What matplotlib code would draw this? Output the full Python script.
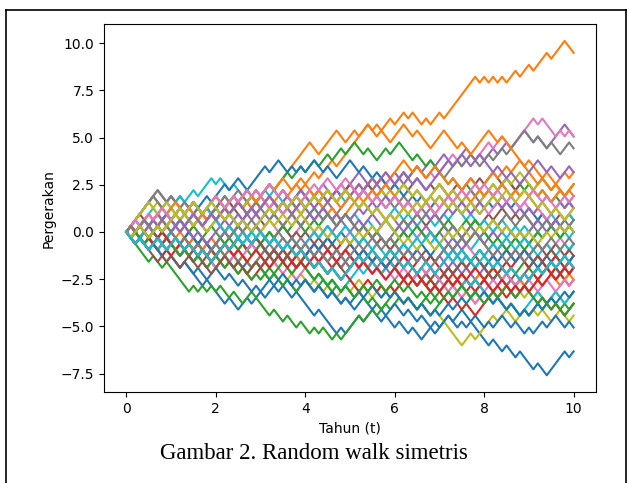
import numpy as np
import matplotlib
matplotlib.use("Agg")
import matplotlib.pyplot as plt
from matplotlib.lines import Line2D

# symmetric random walk: 100 steps of dt = 0.1 year, step size sqrt(dt)
dt = 0.1
step = np.sqrt(dt)

# each walk as up/down moves (u = +1 step, d = -1 step)
walks = [
    "dudduddudd dduddddudd ddudduuduu duududdudd dduddddudu uuduuddudd uddudduudu uuddududdd dudduddudd dudduuuudu",
    "uduududuud dudduuduud uuduuuduud uuduuuuuuu udduuuuddu uduudduuud uududduduu duuuuuuudu dududuuduu duuuduuudd",
    "ddddduddud ddddududud uddudduudd ddudduddud dududduduu uuduuduudu ududduuudu uuduuddudu uudduuduud duuddudduu",
    "uddudduddu udduududdd uudduuduud ddudduuddu uduuddudud dduduuddud ddudduuudd uuduudduud ddudduduud uduududuud",
    "uududduudu duuduudduu ddudduuduu uudduduuud duuudduudu uuddudduuu dduuuduudu udduuuddud uuduuduuud dudduuuudd",
    "uuuuuuuddu dudduddudu uddudduudd duudduuddu uduuddudud ddudduuudd uuduudduud ddudduuudu uduuddudud duudduudud",
    "uduudduudu uudduudduu duuduudduu ddudduuddu uuduuduudd uudduuudud uuduuddudu uuudduuduu uduudduuuu ududddudud",
    "uuuuuudduu dduddudduu uduudduudd uudduuddud uuduudduuu dduuduuddu uuduudduud duuuduuddu uduuduuuud duddudduud",
    "ddudduuddu duudduddud uddduudduu ddudddudud duddudduud uuddudduud ddudduddud ddddduuduu uuduudduud ududduuddu",
    "uuduuuduud uuduuduuud uddudduddu ududdduudd duddudduud uddudduudd duudduddud uuddudduuu duudduddud uuduuddudu",
    "dduduudddu ddudduuddd uududdudud dduddudduu ddudduddud duuddudduu ddudduddud uuduuddudd uduudduddu duuduuddud",
    "udduuduudu uudduduudu dduuududdu uuduuduudu uuduuuduuu uuuududddu uudduddduu udddudduuu uddudddddu dddudduudu",
    "uduuduudud uuduudduuu dduuduuddu uuduuuduud uuduuduudu uddudduudu uddduddudd ddudduddud uuduuddudu ddudduddud",
    "duddudduud uddudduudd uuduudduud ddudduduud dduuddudud uuddudduud dduddudduu uddudduudu ddudduuudu uduudduddu",
    "dudduuddud ddudduuduu uduuddudud dduddudduu uduudduddu ddudduuddu uuduuddudu dduddudduu uuduudduud dudduudduu",
    "uuududduud uuduuddudu uudduduudu uuddudduud ududduuduu dduudduddu uuduuddudu dduuduudud uuddudduud duuddudduu",
    "udduududdu dduuddudud uuduudduud uuddudduuu dduddudduu ddudduuddu uudduududd dduduuddud uuduuduudd udduduuddu",
    "uuuuuuuddu dduddudduu uuduudduud ddudduuddu uuddudduuu duudduddud uuduudduuu ddudduuddu uduuddudud dduuduuddu",
    "dduudduddu ddudduuddu duddudduud uuddudduud dduddudduu ddudduuddu uuduudduud ddudduddud uuduuddudu dudduudduu",
    "uduudduduu uuduudduud dduddudduu uuduuduudd uuduuddudu dduddudduu ddudduuddu uduudduddu dduuddudud uuduudduud",
    "uduuduudud uuduuduudu uuduudduuu uduuddudud uuddudduuu dduddudddu dduddudduu ddudduuddu uduudduddu dduddudduu",
    "dudduddudu uuddudduud dduddudduu uduudduddu dduddudduu uuddudduud ddudduddud uuduudduud uudduddudd uuduudduud",
    "dduddudduu ddudduddud uuddudduud dduddudduu dduuddudud duddudduuu dduddudduu uuduudduud ddudduddud uuduuddudu",
    "udduddudud duudduddud uuduuddudu dduddudduu uuduudduud ddudduddud uudduududd dduddudduu uuduuduudd uudduudduu",
    "udduuddudu uuduudduud dduduuddud ddudduuddu uuduuduudd uuduudduud dduudduddu ddudduuudd uuduuddudu uudduuddud",
    "duuddudduu uuduudduud ddudduddud uuduuddudu dduddudduu uduudduddu ddudduuddu uuduuduudd dduuddudud uudduudduu",
    "uuduuddudu dduuduudud uuduudduuu dduddudduu uuduudduud ddudduddud uuduuduudd uuddudduud duuduuddud dudduudduu",
    "ddudduuddu uduudduddu dduddudduu uuduudduud ddudduddud uudduududd dduudduddu uuduuduudd dduddudduu uuduudduud",
    "uuuuududdu dduddudduu uuduuduudd uudduddudu uuduudduud dduuduudud uuddudduuu dduddudduu uuduuduudd duuddudduu",
    "duddudduud ddudduuddu uuduudduud ddudduddud dduddudduu uuduudduud ddudduddud uudduududd dduddudduu uudduudduu",
    "uddudduudu dduudduddu uuduudduud ddudduddud uuduuduudd dduddudduu uudduudduu ddudduddud uuduudduud dduudduudu",
    "uduudduduu dduuduudud uuduudduud uuddudduuu dduddudduu uuduuduudd ddudduuddu uuduudduud uduuddudud ududduudud",
    "dduuduudud uuddudduud dduddudduu uuduuduudd uuduudduud ddudduddud uuduuddudu uudduududd ddudduuddu uuduudduud",
    "ddudduddud uudduddudu dduddudduu uuduudduud ddudduddud dduuddudud uuduuddudd dduddudduu uuduudduud dduddudduu",
    "uduuduudud dduddudduu uuduuduudd uuduudduud dduuddudud uuduuduudu ddudduddud uuduudduud uudduddudu duudduudud",
    "dudduuddud dduduuddud uuduudduud dduddudduu ddudduuddu uuduudduud ddudduddud uuduuduudd dduuddudud uuduuddudu",
    "ddudduuddu ddudduddud uuduuduudd dduddudduu uuduudduud ddudduddud uudduududd dduddudduu uuduudduud dduudduudu",
    "uuuuuudddu dduddudduu uuduudduud ddudduuddu uuddudduud dduddudduu uuduuduudd ddudduuddu uuduudduud dduudduudu",
    "uuuuudduud dduddudduu ddudduuddu uuduudduud ddudduddud uuduuduudd ddudduuddu uuduudduud uudduddudu dduuduudud",
    "udduduuddu uuduuduudd dduddudduu ddudduuddu uuduudduud ddudduddud uuduuduudd dduddudduu uuduudduud dduudduudu",
    "dduddudddu dduddudduu ddudduddud uuduuddudu ddudduddud uuduuddudu ddudduddud uuduuduudu ddudduddud uuduuduudu",
    "uduuuduudu uddudduuuu dduuduuddu uuduudduud dduddudduu uuduuduudu uuddudduud ddudduuddu uuduuduudd dduddudduu",
    "dudduduudd dduddudduu ddudduddud uuduudduud ddudduddud duuduudduu ddudduddud uuduuddudd uuduudduud dduddudduu",
    "ududdduudd uddudduddu uuddudduud dduuddudud uuduudduud dduddudduu ddudduddud uuduuduudd dduuddudud uuduuduudu",
    "duuduuddud uuduudduud uuduuddudu uudduuduud dduuduudud uuduuduudd uuddudduuu uuduudduud dduddudduu uuddudduud",
    "dduddddudu dduudduddu uuddudduud uuduuduudd dduddudduu uuduudduud ddudduuddu uuduudduud dduddudduu uuduudduud",
    "uuduuduudd uuduudduuu dduuduudud uudduddudu uuduudduud dduddudduu ddudduuddu uuduuduudu dduddudduu uddudduudu",
    "uduudduudd dduddudduu uuduuduudd dduudduddu ddudduuddu uuduudduud dduddudduu uuduuduudd ddudduuddu uuduudduud",
    "duudduuduu uuduudduud dduddudduu uuduuduudd uuduudduud ddudduddud uuduuduudu ddudduuddu uuduudduud dduddudduu",
    "ddudduuddu uddudduddu uuduuduudu ddudduddud dduddudduu uuduudduud ddudduuddu uuduudduud ddudduddud uuduuduudd",
]

fig = plt.figure(figsize=(6.28, 4.83), dpi=100)
ax = fig.add_axes([0.1656, 0.1884, 0.7834, 0.7616])

for w in walks:
    s = w.replace(" ", "")
    assert len(s) == 100, len(s)
    moves = np.where(np.array(list(s)) == "u", 1, -1)
    y = np.concatenate([[0], np.cumsum(moves)]) * step
    t = np.arange(len(y)) * dt
    ax.plot(t, y)

ax.set_xlabel("Tahun (t)")
ax.set_ylabel("Pergerakan")

fig.text(0.5, 0.062, "Gambar 2. Random walk simetris", ha="center", va="center",
         family="Liberation Serif", size=16.5)

# document frame around the figure
for xs, ys in [([0.0096, 0.0096], [0.0, 0.979]), ([0.0096, 0.997], [0.979, 0.979]),
               ([0.997, 0.997], [0.0, 0.979])]:
    fig.add_artist(Line2D(xs, ys, transform=fig.transFigure, color="black", lw=1.2))

fig.savefig("out.png", dpi=100)
